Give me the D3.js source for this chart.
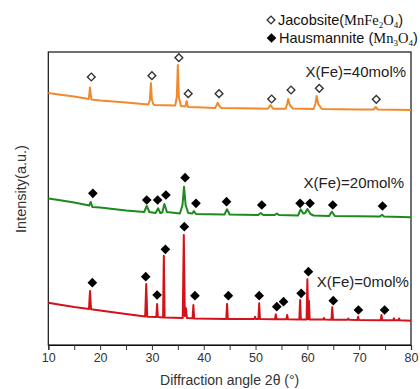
<!DOCTYPE html>
<html>
<head>
<meta charset="utf-8">
<script src="https://cdn.jsdelivr.net/npm/d3@7"></script>
<style>
  body { margin: 0; background: #fff; }
  text { font-family: "Liberation Sans", Arial, sans-serif; }
</style>
</head>
<body>
<div class="canvas"></div>
<script>
// XRD patterns: [2theta, intensity (a.u., offset stacked)]
const pattern40 = [
  [10, 252], [12, 250.5], [15, 248.5], [17.8, 246], [18.05, 257.5], [18.3, 245.5],
  [20, 244.5], [25, 242.5], [29.3, 240.5], [29.6, 245], [29.8, 262], [30.0, 245], [30.3, 240.5],
  [30.5, 240], [34.5, 239.5], [34.8, 248], [35.0, 280], [35.2, 248], [35.6, 239],
  [36.45, 238.5], [36.7, 244], [36.95, 238], [40, 237.5], [42.2, 237], [42.5, 240],
  [42.7, 242.3], [42.95, 239.5], [43.4, 237], [50, 236.5], [52.4, 236.3], [52.9, 240],
  [53.4, 236.3], [55.8, 236.3], [56.1, 241], [56.3, 246], [56.6, 240], [57.2, 236.5],
  [61.2, 236], [61.55, 241], [61.8, 249], [62.1, 241], [62.8, 236], [70, 235.5],
  [72.8, 235.5], [73.2, 238], [73.6, 235.5], [80, 235]
];

const pattern20 = [
  [10, 146.5], [12, 145], [15, 142.5], [17.9, 139.5], [18.2, 143], [18.5, 138],
  [20, 137.5], [25, 134.5], [28.5, 133], [29.0, 139], [29.5, 133], [30.7, 132],
  [31.2, 136.7], [31.6, 132], [32.0, 132.5], [32.4, 141], [32.9, 133], [35.4, 131.5],
  [35.9, 140], [36.2, 158.3], [36.5, 140], [37.0, 132], [37.8, 131.5], [38.1, 134],
  [38.5, 131], [44.0, 130.5], [44.5, 135.7], [45.0, 130.5], [50.5, 130], [51.0, 132],
  [51.5, 130], [53.7, 130], [54.1, 131.5], [54.5, 130], [58.2, 129.5], [58.7, 135.7],
  [59.2, 131.5], [59.6, 132], [60.0, 136], [60.6, 131], [61.2, 129.5], [64.2, 129],
  [64.7, 133.3], [65.3, 129], [74.0, 128.5], [74.4, 130.3], [74.8, 128.5], [80, 127.7]
];

const pattern0 = [
  [10, 42.3], [12, 40.5], [15, 38], [17.85, 36], [18.05, 54], [18.25, 35.7],
  [20, 34.5], [25, 31], [28.7, 28.5], [28.9, 61], [29.1, 28.3], [30.85, 28],
  [31.0, 41], [31.15, 28], [32.15, 27.5], [32.3, 89.3], [32.45, 27.5], [35.95, 27],
  [36.15, 110], [36.35, 29], [36.55, 37], [36.75, 27], [37.85, 26.7], [38.0, 40],
  [38.15, 26.5], [44.35, 26], [44.5, 41], [44.65, 26], [49.75, 26], [49.9, 28.3],
  [50.05, 26], [50.55, 26], [50.7, 41.7], [50.85, 26], [53.75, 25.7], [53.9, 30.7],
  [54.05, 25.7], [55.95, 25.7], [56.1, 30], [56.25, 25.7], [58.45, 25.5], [58.6, 45],
  [58.75, 25.5], [59.85, 25.5], [60.0, 65.7], [60.15, 26], [60.3, 44.3], [60.45, 25.5],
  [63.05, 25.5], [63.2, 27], [63.35, 25.5], [64.65, 25.3], [64.8, 37.7], [64.95, 25.3],
  [67.75, 25.2], [67.9, 26.5], [68.05, 25.2], [69.65, 25], [69.8, 28.3], [69.95, 25],
  [74.15, 24.8], [74.3, 30], [74.45, 24.8], [76.55, 24.7], [76.7, 26.7], [76.85, 24.7],
  [77.55, 24.7], [77.7, 26.5], [77.85, 24.7], [80, 24.3]
];

// peak markers [2theta, intensity]
const jacobsiteMarks40 = [
  [18.3, 268], [30.0, 269.3], [35.2, 287.3], [37.0, 251.3], [42.95, 251.3],
  [53.1, 246], [56.85, 255], [62.3, 256.7], [73.3, 245.7]
];
const hausmanniteMarks20 = [
  [18.6, 151.7], [29.0, 145], [31.1, 145], [32.7, 150], [36.4, 167.3], [38.5, 141.7],
  [44.4, 143.3], [51.2, 140], [58.6, 141.7], [60.5, 141.7], [64.9, 140], [74.5, 139]
];
const hausmanniteMarks0 = [
  [18.5, 62.3], [28.8, 68.3], [31.0, 50], [32.6, 95.7], [36.25, 118.3], [38.3, 49.3],
  [44.75, 49.3], [50.7, 49.3], [54.1, 38.3], [55.4, 43.3], [58.8, 51.7], [60.2, 73.3],
  [65.0, 44.3], [69.85, 35], [74.9, 35]
];

const seriesNames = ['X(Fe)=40mol%', 'X(Fe)=20mol%', 'X(Fe)=0mol%'];
const seriesColors = ['#f08a2c', '#1d8a1d', '#d3121a'];
const seriesLabelPos = [[79.05, 268], [78.65, 157], [79.6, 58]]; // right end of label
const xTicks = [10, 15, 20, 25, 30, 35, 40, 45, 50, 55, 60, 65, 70, 75, 80];

const width = 420, height = 389;
const margin = { top: 52, right: 9, bottom: 44, left: 48.3 };
const graphWidth = width - margin.left - margin.right;
const graphHeight = height - margin.top - margin.bottom;

const svg = d3.select('.canvas')
  .append('svg')
  .attr('width', width)
  .attr('height', height);

const graph = svg.append('g')
  .attr('transform', `translate(${margin.left}, ${margin.top})`);

const x = d3.scaleLinear().domain([10, 80]).range([0, graphWidth]);
const y = d3.scaleLinear().domain([0, 293]).range([graphHeight, 0]);

// frame
graph.append('rect')
  .attr('width', graphWidth)
  .attr('height', graphHeight)
  .attr('fill', 'none')
  .attr('stroke', '#111')
  .attr('stroke-width', 1.2);

// x axis
const xAxis = d3.axisBottom(x)
  .tickValues(xTicks)
  .tickSize(5)
  .tickPadding(3)
  .tickFormat(d => d % 10 === 0 ? d : '');

const xAxisGroup = graph.append('g')
  .attr('transform', `translate(0, ${graphHeight})`)
  .call(xAxis);
xAxisGroup.select('.domain').attr('stroke', '#111').attr('stroke-width', 1.2);
xAxisGroup.selectAll('.tick line').attr('stroke', '#333');
xAxisGroup.selectAll('.tick text')
  .attr('font-size', 12.5)
  .attr('fill', '#333')
  .attr('font-family', '"Liberation Sans", Arial, sans-serif');

// curves
const line = d3.line()
  .x(d => x(d[0]))
  .y(d => y(d[1]));

[pattern40, pattern20, pattern0].forEach((p, i) => {
  graph.append('path')
    .datum(p)
    .attr('fill', 'none')
    .attr('stroke', seriesColors[i])
    .attr('stroke-width', 2)
    .attr('stroke-linejoin', 'round')
    .attr('d', line);
});

// markers
const openDiamond = d3.symbol(d3.symbolSquare, 30);
const filledDiamond = d3.symbol(d3.symbolSquare, 47);

graph.selectAll('.jac')
  .data(jacobsiteMarks40)
  .enter()
  .append('path')
  .attr('d', openDiamond)
  .attr('transform', d => `translate(${x(d[0])}, ${y(d[1])}) rotate(45)`)
  .attr('fill', '#fff')
  .attr('stroke', '#333')
  .attr('stroke-width', 1.4);

graph.selectAll('.hau')
  .data(hausmanniteMarks20.concat(hausmanniteMarks0))
  .enter()
  .append('path')
  .attr('d', filledDiamond)
  .attr('transform', d => `translate(${x(d[0])}, ${y(d[1])}) rotate(45)`)
  .attr('fill', '#000');

// series labels
graph.selectAll('.slabel')
  .data(seriesNames)
  .enter()
  .append('text')
  .attr('x', (d, i) => x(seriesLabelPos[i][0]))
  .attr('y', (d, i) => y(seriesLabelPos[i][1]))
  .attr('text-anchor', 'end')
  .attr('font-size', 15)
  .attr('fill', '#222')
  .text(d => d);

// axis titles
svg.append('text')
  .attr('x', margin.left + graphWidth / 2)
  .attr('y', 385)
  .attr('text-anchor', 'middle')
  .attr('font-size', 14)
  .attr('fill', '#333')
  .text('Diffraction angle 2θ (°)');

svg.append('text')
  .attr('transform', 'translate(25.5, 189) rotate(-90)')
  .attr('text-anchor', 'middle')
  .attr('font-size', 14.5)
  .attr('fill', '#333')
  .text('Intensity(a.u.)');

// legend
const legend = svg.append('g');
legend.append('path')
  .attr('d', openDiamond)
  .attr('transform', 'translate(271, 20) rotate(45)')
  .attr('fill', '#fff')
  .attr('stroke', '#333')
  .attr('stroke-width', 1.4);
legend.append('path')
  .attr('d', filledDiamond)
  .attr('transform', 'translate(271.5, 38) rotate(45)')
  .attr('fill', '#000');

const serif = '"Liberation Serif", "Times New Roman", serif';
const l1 = legend.append('text').attr('x', 278).attr('y', 25).attr('font-size', 14.5).attr('fill', '#111');
l1.append('tspan').text('Jacobsite(');
l1.append('tspan').attr('font-family', serif).text('MnFe');
l1.append('tspan').attr('font-family', serif).attr('font-size', 9).attr('dy', 3).text('2');
l1.append('tspan').attr('font-family', serif).attr('dy', -3).text('O');
l1.append('tspan').attr('font-family', serif).attr('font-size', 9).attr('dy', 3).text('4');
l1.append('tspan').attr('dy', -3).text(')');

const l2 = legend.append('text').attr('x', 279).attr('y', 43).attr('font-size', 14.5).attr('fill', '#111');
l2.append('tspan').text('Hausmannite (');
l2.append('tspan').attr('font-family', serif).text('Mn');
l2.append('tspan').attr('font-family', serif).attr('font-size', 9).attr('dy', 3).text('3');
l2.append('tspan').attr('font-family', serif).attr('dy', -3).text('O');
l2.append('tspan').attr('font-family', serif).attr('font-size', 9).attr('dy', 3).text('4');
l2.append('tspan').attr('dy', -3).text(')');
</script>
</body>
</html>
